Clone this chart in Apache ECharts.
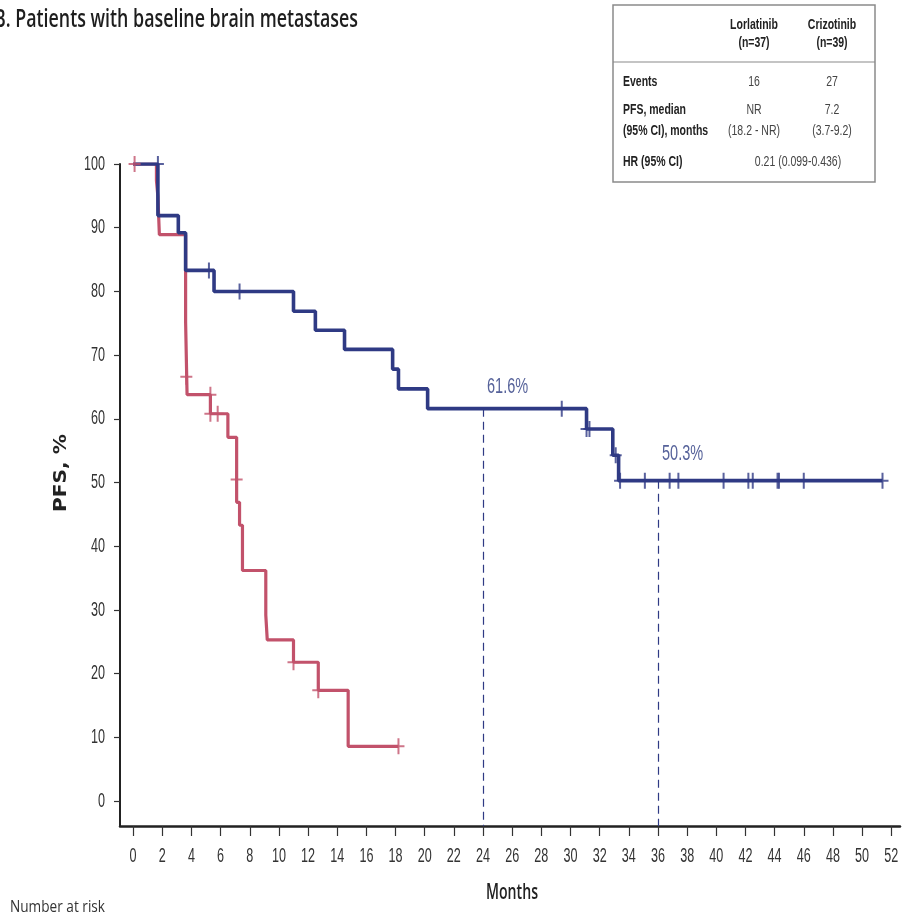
<!DOCTYPE html>
<html>
<head>
<meta charset="utf-8">
<script src="https://cdn.jsdelivr.net/npm/echarts@6/dist/echarts.min.js"></script>
<style>
  html, body { margin: 0; padding: 0; background: #ffffff; }
  #chart { width: 904px; height: 916px; }
</style>
</head>
<body>
<div id="chart"></div>
<script>
// Kaplan-Meier step points: time (months) and PFS (%)
const lorTimes = [0, 1.7, 3.1, 3.6, 5.55, 11.0, 12.5, 14.5, 17.8, 18.2, 20.2, 31.1, 32.9, 33.3, 51.4];
const lorSurv  = [100, 91.9, 89.2, 83.3, 80.0, 76.9, 73.9, 70.9, 67.8, 64.7, 61.6, 58.4, 54.3, 50.3, 50.3];

const crizTimes = [0, 1.6, 1.7, 1.8, 3.6, 3.7, 5.3, 6.5, 7.1, 7.3, 7.5, 9.1, 9.2, 11.0, 12.7, 14.75, 18.2];
const crizSurv  = [100, 97.4, 94.9, 88.9, 75.2, 63.8, 60.8, 57.1, 46.9, 43.3, 36.2, 29.2, 25.3, 21.8, 17.4, 8.6, 8.6];

// Censored observations
const lorCensorTimes = [1.7, 5.2, 7.3, 29.4, 31.1, 31.3, 33.1, 33.4, 35.1, 36.8, 37.4, 40.5, 42.2, 42.5, 44.2, 44.3, 46.0, 51.4];
const lorCensorSurv  = [100, 83.3, 80.0, 61.6, 58.4, 58.4, 54.3, 50.3, 50.3, 50.3, 50.3, 50.3, 50.3, 50.3, 50.3, 50.3, 50.3, 50.3];

const crizCensorTimes = [0.1, 3.65, 5.3, 5.3, 5.8, 7.1, 11.0, 12.7, 18.2];
const crizCensorSurv  = [100, 66.6, 63.8, 60.8, 60.8, 50.5, 21.8, 17.4, 8.6];

// Landmark estimates
const landmarkMonths = [24, 36];
const landmarkSurv   = [61.6, 50.3];

// Axis ticks
const xTicks = [0, 2, 4, 6, 8, 10, 12, 14, 16, 18, 20, 22, 24, 26, 28, 30, 32, 34, 36, 38, 40, 42, 44, 46, 48, 50, 52];
const yTicks = [0, 10, 20, 30, 40, 50, 60, 70, 80, 90, 100];

// Summary table
const tableHeads   = ['Lorlatinib', 'Crizotinib'];
const tableNs      = ['(n=37)', '(n=39)'];
const eventsRow    = ['16', '27'];
const medianRow    = ['NR', '7.2'];
const medianCiRow  = ['(18.2 - NR)', '(3.7-9.2)'];
const hazardRatio  = '0.21 (0.099-0.436)';

const BLUE = '#2f3a84';
const RED = '#c2526b';
const X_MIN = -0.9, X_MAX = 52.6, Y_MIN = -3.9, Y_MAX = 100;

const zip = (a, b) => a.map((v, i) => [v, b[i]]);

const measureCtx = document.createElement('canvas').getContext('2d');
function textWidth(text, font) {
  measureCtx.font = font;
  return measureCtx.measureText(text).width;
}
// Text squeezed/stretched horizontally to a given width
function fittedText(text, x, y, font, width, align, color, extra) {
  const w = textWidth(text, font);
  return Object.assign({
    type: 'text', x: x, y: y, scaleX: width / w, silent: true,
    style: { text: text, font: font, fill: color, align: align, verticalAlign: 'middle' }
  }, extra || {});
}
// Condensed text with a fixed horizontal squeeze
function narrowText(text, x, y, font, squeeze, align, vAlign, color) {
  return {
    type: 'text', x: x, y: y, scaleX: squeeze, silent: true,
    style: { text: text, font: font, fill: color, align: align, verticalAlign: vAlign }
  };
}
function tableText(text, x, y, bold, align) {
  return narrowText(text, x, y, (bold ? 'bold ' : '') + '15px "Liberation Sans", Arial, sans-serif',
    0.70, align, 'middle', bold ? '#222' : '#444');
}

const col1 = 754, col2 = 832;
const staticGraphics = [
  fittedText('B. Patients with baseline brain metastases', -6, 20, '600 25px "Open Sans", sans-serif', 364, 'left', '#1e1e1e'),
  fittedText('PFS, %', 62, 473, 'bold 17px "DejaVu Sans", sans-serif', 78, 'center', '#222', { rotation: Math.PI / 2 }),
  fittedText('Months', 512, 893, '600 22px "Open Sans", sans-serif', 52, 'center', '#222'),
  fittedText('Number at risk', 10, 907, '17px "Open Sans", sans-serif', 95, 'left', '#333'),
  {
    type: 'rect', silent: true,
    shape: { x: 613, y: 5, width: 262, height: 177 },
    style: { fill: '#fff', stroke: '#8a8a8a', lineWidth: 1.5 }
  },
  {
    type: 'line', silent: true,
    shape: { x1: 613, y1: 62, x2: 875, y2: 62 },
    style: { stroke: '#8a8a8a', lineWidth: 1.2 }
  },
  tableText(tableHeads[0], col1, 25, true, 'center'),
  tableText(tableNs[0], col1, 43, true, 'center'),
  tableText(tableHeads[1], col2, 25, true, 'center'),
  tableText(tableNs[1], col2, 43, true, 'center'),
  tableText('Events', 623, 82, true, 'left'),
  tableText(eventsRow[0], col1, 82, false, 'center'),
  tableText(eventsRow[1], col2, 82, false, 'center'),
  tableText('PFS, median', 623, 110, true, 'left'),
  tableText('(95% CI), months', 623, 131, true, 'left'),
  tableText(medianRow[0], col1, 110, false, 'center'),
  tableText(medianCiRow[0], col1, 131, false, 'center'),
  tableText(medianRow[1], col2, 110, false, 'center'),
  tableText(medianCiRow[1], col2, 131, false, 'center'),
  tableText('HR (95% CI)', 623, 162, true, 'left'),
  tableText(hazardRatio, 798, 162, false, 'center')
];

const censorSymbol = 'path://M-1,-8 L1,-8 L1,-1 L6,-1 L6,1 L1,1 L1,8 L-1,8 L-1,1 L-6,1 L-6,-1 L-1,-1 Z';

const chart = echarts.init(document.getElementById('chart'), null, { renderer: 'canvas' });
chart.setOption({
  animation: false,
  backgroundColor: '#ffffff',
  grid: { left: 120, right: 4, top: 164, bottom: 90, containLabel: false },
  xAxis: {
    type: 'value', min: X_MIN, max: X_MAX,
    axisLine: { show: true, onZero: false, lineStyle: { color: '#222', width: 2.5 } },
    axisTick: { show: true, customValues: xTicks, length: 10, lineStyle: { color: '#333', width: 1.2 } },
    axisLabel: { show: false },
    splitLine: { show: false }
  },
  yAxis: {
    type: 'value', min: Y_MIN, max: Y_MAX,
    axisLine: { show: true, onZero: false, lineStyle: { color: '#222', width: 2 } },
    axisTick: { show: true, customValues: yTicks, length: 6, lineStyle: { color: '#333', width: 1.2 } },
    axisLabel: { show: false },
    splitLine: { show: false }
  },
  series: [
    {
      name: 'Crizotinib', type: 'line', step: 'end', data: zip(crizTimes, crizSurv),
      showSymbol: false, z: 3,
      lineStyle: { color: RED, width: 3.2 }
    },
    {
      name: 'Lorlatinib', type: 'line', step: 'end', data: zip(lorTimes, lorSurv),
      showSymbol: false, z: 4,
      lineStyle: { color: BLUE, width: 3.6 }
    },
    {
      name: 'Crizotinib censored', type: 'scatter', data: zip(crizCensorTimes, crizCensorSurv),
      symbol: censorSymbol, symbolSize: [12, 16], z: 5,
      itemStyle: { color: RED }
    },
    {
      name: 'Lorlatinib censored', type: 'scatter', data: zip(lorCensorTimes, lorCensorSurv),
      symbol: censorSymbol, symbolSize: [12, 16], z: 6,
      itemStyle: { color: BLUE }
    },
    {
      name: 'Landmarks', type: 'line', data: [], z: 7,
      markLine: {
        silent: true, symbol: 'none', animation: false,
        label: { show: false },
        lineStyle: { color: BLUE, type: [8, 5], width: 1.2 },
        data: landmarkMonths.map((m, i) => [
          { coord: [m, landmarkSurv[i]] },
          { coord: [m, Y_MIN] }
        ])
      }
    }
  ]
});

// Condensed tick labels and landmark captions, placed through the axis scales
const toPx = (x, y) => chart.convertToPixel({ gridIndex: 0 }, [x, y]);
const TICK_FONT = '20px "Liberation Sans", Arial, sans-serif';
const scaleGraphics = [];
xTicks.forEach(t => {
  const p = toPx(t, 0);
  scaleGraphics.push(narrowText(String(t), p[0], 856, TICK_FONT, 0.63, 'center', 'middle', '#333'));
});
yTicks.forEach(t => {
  const p = toPx(0, t);
  scaleGraphics.push(narrowText(String(t), 105, p[1], TICK_FONT, 0.63, 'right', 'middle', '#333'));
});
const captionGap = [11, 16];
landmarkMonths.forEach((m, i) => {
  const p = toPx(m, landmarkSurv[i]);
  scaleGraphics.push(narrowText(landmarkSurv[i].toFixed(1) + '%', p[0] + 4, p[1] - captionGap[i],
    '22px "Liberation Sans", Arial, sans-serif', 0.66, 'left', 'bottom', '#56629a'));
});

chart.setOption({ graphic: staticGraphics.concat(scaleGraphics) });
</script>
</body>
</html>
